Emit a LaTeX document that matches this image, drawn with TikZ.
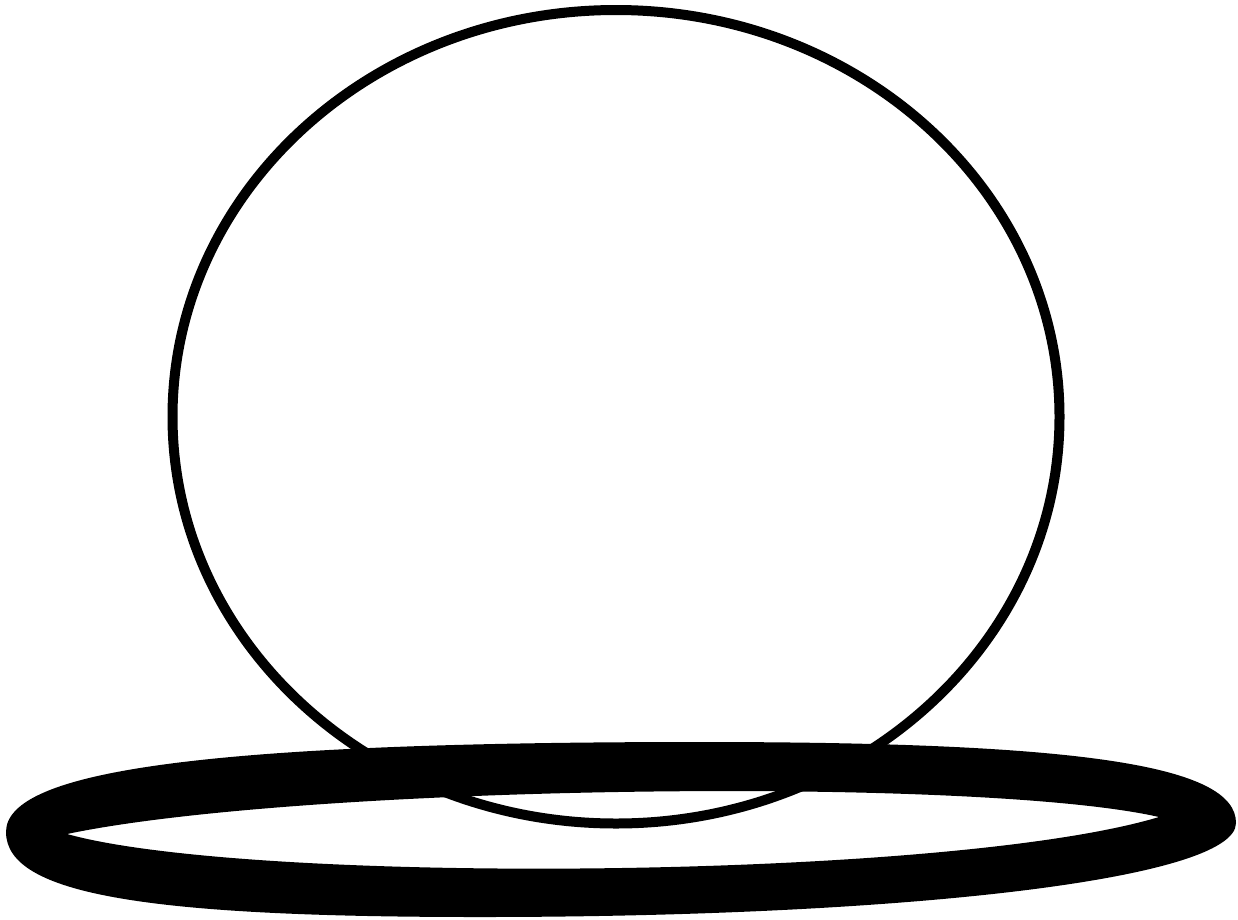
\documentclass[tikz,border=0pt]{standalone}
\begin{document}
\begin{tikzpicture}[x=1pt,y=-1pt,
  ballline/.style={line width=10pt, draw=black},
  ringfill/.style={fill=black, even odd rule}]
\useasboundingbox (0,0) rectangle (1238,919);
\fill[white] (0,0) rectangle (1238,919);
% ball
\draw[ballline] (616,416.75) ellipse [x radius=443.5, y radius=406.75];
% ring: outer outline with the lens-shaped hole
\fill[ringfill]
  (6,832) .. controls (6,770) and (210,742) .. (700,742)
          .. controls (1080,742) and (1236,765) .. (1236,823)
          .. controls (1236,880) and (900,917) .. (480,917)
          .. controls (150,917) and (6,895) .. cycle
  (67,834) .. controls (300,785) and (980,776) .. (1159,817)
           .. controls (950,880) and (250,885) .. cycle;
\end{tikzpicture}
\end{document}
